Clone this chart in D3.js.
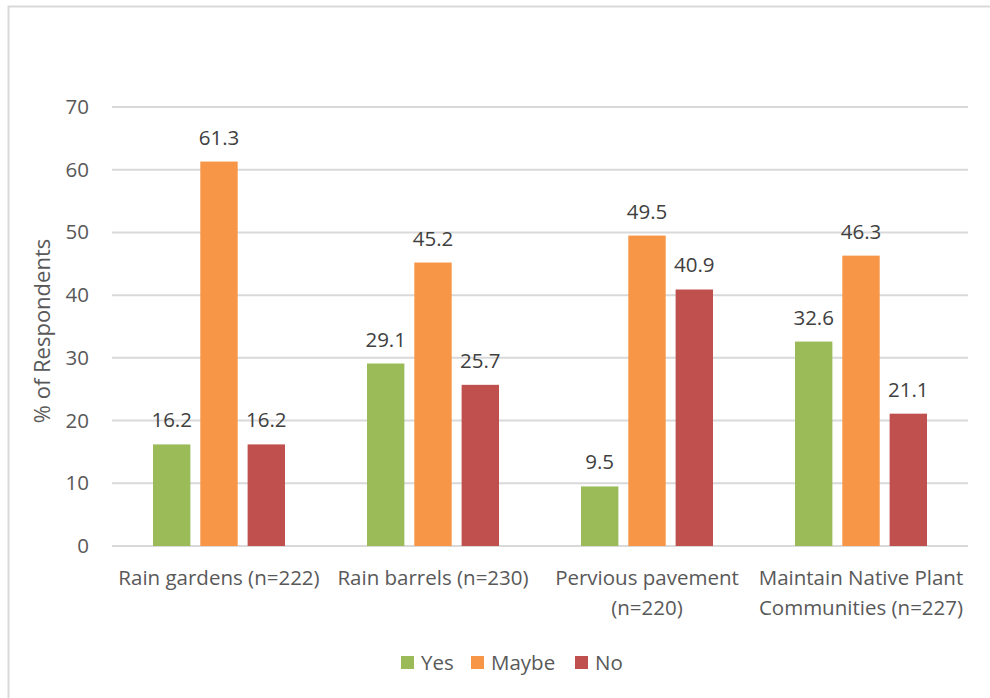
<!DOCTYPE html>
<html>
<head>
<meta charset="utf-8">
<script src="https://cdn.jsdelivr.net/npm/d3@7"></script>
<style>
  body { margin: 0; background: #fff; }
  text { font-family: "Open Sans", "Noto Sans", sans-serif; }
</style>
</head>
<body>
<div id="chart"></div>
<script>
var categories = [
  ["Rain gardens (n=222)"],
  ["Rain barrels (n=230)"],
  ["Pervious pavement", "(n=220)"],
  ["Maintain Native Plant", "Communities (n=227)"]
];
var seriesNames = ["Yes", "Maybe", "No"];
var yesValues = [16.2, 29.1, 9.5, 32.6];
var maybeValues = [61.3, 45.2, 49.5, 46.3];
var noValues = [16.2, 25.7, 40.9, 21.1];
var yTicks = [0, 10, 20, 30, 40, 50, 60, 70];
var colors = ["#9bbb59", "#f79646", "#c0504d"];

var width = 990, height = 698;
var plot = {left: 112, right: 968, top: 107, bottom: 546};
var fs = "20.5px";

var svg = d3.select("#chart").append("svg")
    .attr("width", width)
    .attr("height", height);

// outer chart border
svg.append("rect")
    .attr("x", 8.5).attr("y", 6.5)
    .attr("width", 1000).attr("height", 1000)
    .attr("fill", "none")
    .attr("stroke", "#d9d9d9")
    .attr("stroke-width", 2);

var x0 = d3.scaleBand()
    .domain(d3.range(categories.length))
    .range([plot.left, plot.right]);

var x1 = d3.scaleBand()
    .domain(d3.range(seriesNames.length))
    .range([41, x0.bandwidth() - 41])
    .paddingInner(0.21);

var y = d3.scaleLinear()
    .domain([0, 70])
    .range([plot.bottom, plot.top]);

// gridlines
svg.append("g").selectAll("line")
    .data(yTicks)
    .enter().append("line")
    .attr("x1", plot.left).attr("x2", plot.right)
    .attr("y1", function(d){ return y(d); })
    .attr("y2", function(d){ return y(d); })
    .attr("stroke", "#d9d9d9")
    .attr("stroke-width", 2);

// y axis labels
var yAxis = d3.axisLeft(y).tickValues(yTicks).tickSize(0).tickPadding(23);
var yg = svg.append("g")
    .attr("transform", "translate(" + plot.left + ",0)")
    .call(yAxis);
yg.select(".domain").remove();
yg.selectAll("text")
    .attr("fill", "#595959")
    .style("font-size", fs);

// y axis title
svg.append("text")
    .attr("transform", "translate(50,331) rotate(-90)")
    .attr("text-anchor", "middle")
    .attr("fill", "#595959")
    .style("font-size", "22px")
    .text("% of Respondents");

var allSeries = [yesValues, maybeValues, noValues];
var rows = categories.map(function(c, i){
  return allSeries.map(function(s, j){ return {cat: i, ser: j, value: s[i]}; });
});

var groups = svg.append("g").selectAll("g")
    .data(rows)
    .enter().append("g")
    .attr("transform", function(d, i){ return "translate(" + x0(i) + ",0)"; });

groups.selectAll("rect")
    .data(function(d){ return d; })
    .enter().append("rect")
    .attr("x", function(d){ return x1(d.ser); })
    .attr("width", x1.bandwidth())
    .attr("y", function(d){ return y(d.value); })
    .attr("height", function(d){ return y(0) - y(d.value); })
    .attr("fill", function(d){ return colors[d.ser]; });

groups.selectAll("text.val")
    .data(function(d){ return d; })
    .enter().append("text")
    .attr("class", "val")
    .attr("x", function(d){ return x1(d.ser) + x1.bandwidth() / 2; })
    .attr("y", function(d){ return y(d.value) - 17; })
    .attr("text-anchor", "middle")
    .attr("fill", "#404040")
    .style("font-size", fs)
    .text(function(d){ return d.value.toFixed(1); });

// category labels
var catG = svg.append("g").selectAll("text")
    .data(categories)
    .enter().append("text")
    .attr("x", function(d, i){ return x0(i) + x0.bandwidth() / 2; })
    .attr("y", 585)
    .attr("text-anchor", "middle")
    .attr("fill", "#595959")
    .style("font-size", fs);
catG.selectAll("tspan")
    .data(function(d){ return d; })
    .enter().append("tspan")
    .attr("x", function(){ return d3.select(this.parentNode).attr("x"); })
    .attr("dy", function(d, i){ return i === 0 ? 0 : 30; })
    .text(function(d){ return d; });

// legend
var legendX = [401, 471, 575];
var legend = svg.append("g").selectAll("g")
    .data(seriesNames)
    .enter().append("g")
    .attr("transform", function(d, i){ return "translate(" + legendX[i] + ",656)"; });
legend.append("rect")
    .attr("width", 13).attr("height", 13)
    .attr("fill", function(d, i){ return colors[i]; });
legend.append("text")
    .attr("x", 20).attr("y", 14)
    .attr("fill", "#595959")
    .style("font-size", fs)
    .text(function(d){ return d; });
</script>
</body>
</html>
